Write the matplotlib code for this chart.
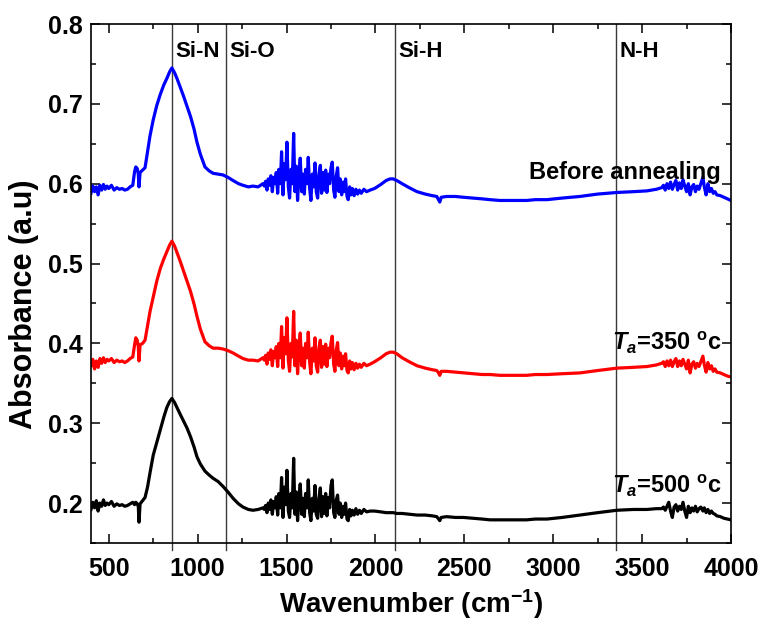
"""FTIR absorbance spectra of the SiN film before and after annealing."""
import matplotlib
matplotlib.use("Agg")
import matplotlib.pyplot as plt
from matplotlib.ticker import MultipleLocator

plt.rcParams["font.family"] = ["Liberation Sans", "DejaVu Sans"]
plt.rcParams["font.weight"] = "bold"
plt.rcParams["mathtext.fontset"] = "custom"
plt.rcParams["mathtext.rm"] = "Liberation Sans:bold"
plt.rcParams["mathtext.bf"] = "Liberation Sans:bold"
plt.rcParams["mathtext.it"] = "Liberation Sans:bold:italic"

# wavenumber grid (cm-1), shared by the three spectra
wavenumber = [
    400, 410, 420, 430, 440, 450, 460, 470, 480, 490,
    500, 515, 530, 545, 560, 575, 590, 605, 620, 635,
    645, 652, 660, 666, 670, 676, 690, 704, 718, 732,
    750, 770, 790, 810, 827, 842, 855, 870, 885, 900,
    920, 940, 960, 980, 996, 1015, 1041, 1065, 1087, 1115,
    1142, 1170, 1199, 1230, 1255, 1285, 1311, 1340, 1367, 1375,
    1382, 1390, 1397, 1405, 1412, 1420, 1427, 1435, 1442, 1450,
    1457, 1465, 1472, 1480, 1487, 1495, 1502, 1510, 1517, 1525,
    1532, 1540, 1547, 1555, 1562, 1570, 1577, 1585, 1592, 1600,
    1607, 1615, 1622, 1630, 1637, 1645, 1652, 1660, 1667, 1675,
    1682, 1690, 1697, 1705, 1712, 1720, 1727, 1735, 1742, 1750,
    1757, 1765, 1772, 1780, 1787, 1795, 1802, 1810, 1817, 1825,
    1832, 1840, 1847, 1855, 1862, 1870, 1880, 1890, 1900, 1910,
    1920, 1935, 1950, 1970, 1995, 2030, 2060, 2082, 2100, 2120,
    2150, 2190, 2234, 2280, 2320, 2345, 2355, 2362, 2370, 2400,
    2450, 2495, 2550, 2600, 2645, 2700, 2750, 2800, 2850, 2900,
    2965, 3050, 3150, 3250, 3358, 3450, 3527, 3580, 3610, 3620,
    3630, 3640, 3650, 3660, 3670, 3680, 3690, 3700, 3710, 3720,
    3730, 3740, 3750, 3760, 3770, 3780, 3790, 3800, 3810, 3820,
    3830, 3842, 3850, 3860, 3870, 3880, 3890, 3900, 3910, 3920,
    3940, 3960, 3980, 4000,
]

before_annealing = [
    0.588, 0.597, 0.590, 0.596, 0.586, 0.598, 0.592, 0.599, 0.593, 0.597,
    0.594, 0.598, 0.592, 0.595, 0.593, 0.594, 0.592, 0.593, 0.596, 0.598,
    0.615, 0.621, 0.619, 0.612, 0.596, 0.614, 0.617, 0.620, 0.640, 0.660,
    0.680, 0.698, 0.712, 0.724, 0.732, 0.740, 0.745, 0.739, 0.731, 0.722,
    0.710, 0.697, 0.684, 0.668, 0.652, 0.637, 0.621, 0.616, 0.613, 0.612,
    0.611, 0.608, 0.604, 0.600, 0.598, 0.596, 0.597, 0.596, 0.600, 0.597,
    0.603, 0.592, 0.606, 0.598, 0.610, 0.590, 0.608, 0.600, 0.614, 0.588,
    0.618, 0.600, 0.640, 0.586, 0.625, 0.605, 0.652, 0.596, 0.582, 0.618,
    0.600, 0.663, 0.590, 0.622, 0.579, 0.612, 0.632, 0.590, 0.612, 0.587,
    0.618, 0.600, 0.633, 0.594, 0.579, 0.612, 0.596, 0.626, 0.590, 0.582,
    0.612, 0.623, 0.588, 0.614, 0.592, 0.617, 0.589, 0.612, 0.600, 0.620,
    0.627, 0.592, 0.583, 0.610, 0.620, 0.590, 0.606, 0.586, 0.602, 0.590,
    0.606, 0.584, 0.580, 0.596, 0.586, 0.594, 0.585, 0.593, 0.587, 0.592,
    0.588, 0.593, 0.590, 0.592, 0.594, 0.599, 0.604, 0.606, 0.606, 0.604,
    0.600, 0.595, 0.590, 0.587, 0.585, 0.584, 0.580, 0.577, 0.583, 0.584,
    0.584, 0.583, 0.582, 0.581, 0.580, 0.579, 0.579, 0.579, 0.579, 0.580,
    0.580, 0.582, 0.584, 0.587, 0.589, 0.590, 0.591, 0.593, 0.595, 0.598,
    0.592, 0.600, 0.594, 0.602, 0.593, 0.599, 0.604, 0.592, 0.601, 0.594,
    0.605, 0.597, 0.590, 0.600, 0.586, 0.596, 0.599, 0.590, 0.597, 0.593,
    0.600, 0.608, 0.596, 0.586, 0.600, 0.590, 0.594, 0.588, 0.590, 0.586,
    0.585, 0.583, 0.581, 0.579,
]

annealed_350 = [
    0.372, 0.380, 0.368, 0.378, 0.370, 0.381, 0.375, 0.382, 0.376, 0.380,
    0.378, 0.381, 0.376, 0.379, 0.377, 0.378, 0.376, 0.378, 0.381, 0.383,
    0.398, 0.407, 0.404, 0.396, 0.378, 0.398, 0.400, 0.404, 0.422, 0.440,
    0.458, 0.478, 0.494, 0.506, 0.515, 0.523, 0.528, 0.522, 0.513, 0.504,
    0.491, 0.478, 0.465, 0.449, 0.434, 0.418, 0.402, 0.397, 0.394, 0.394,
    0.393, 0.391, 0.388, 0.384, 0.381, 0.379, 0.379, 0.378, 0.382, 0.379,
    0.385, 0.374, 0.388, 0.380, 0.392, 0.372, 0.390, 0.382, 0.396, 0.371,
    0.400, 0.382, 0.421, 0.369, 0.407, 0.387, 0.432, 0.379, 0.365, 0.400,
    0.383, 0.440, 0.372, 0.404, 0.362, 0.394, 0.413, 0.372, 0.394, 0.369,
    0.400, 0.382, 0.414, 0.376, 0.362, 0.394, 0.378, 0.407, 0.372, 0.364,
    0.394, 0.404, 0.370, 0.396, 0.374, 0.399, 0.371, 0.394, 0.382, 0.401,
    0.409, 0.374, 0.365, 0.392, 0.401, 0.372, 0.388, 0.368, 0.384, 0.372,
    0.387, 0.366, 0.363, 0.378, 0.368, 0.376, 0.367, 0.375, 0.369, 0.374,
    0.370, 0.375, 0.372, 0.374, 0.377, 0.382, 0.387, 0.389, 0.389, 0.387,
    0.382, 0.377, 0.372, 0.369, 0.367, 0.366, 0.363, 0.360, 0.365, 0.365,
    0.364, 0.363, 0.362, 0.361, 0.361, 0.360, 0.360, 0.360, 0.360, 0.361,
    0.361, 0.362, 0.363, 0.366, 0.369, 0.370, 0.371, 0.373, 0.375, 0.377,
    0.371, 0.378, 0.372, 0.379, 0.371, 0.377, 0.381, 0.371, 0.378, 0.372,
    0.380, 0.374, 0.368, 0.379, 0.363, 0.374, 0.377, 0.369, 0.375, 0.371,
    0.377, 0.384, 0.373, 0.364, 0.376, 0.368, 0.372, 0.365, 0.368, 0.364,
    0.363, 0.361, 0.359, 0.358,
]

annealed_500 = [
    0.192, 0.201, 0.194, 0.203, 0.190, 0.200, 0.196, 0.204, 0.197, 0.200,
    0.198, 0.202, 0.196, 0.199, 0.197, 0.198, 0.196, 0.197, 0.199, 0.201,
    0.198, 0.201, 0.199, 0.196, 0.176, 0.199, 0.203, 0.207, 0.220, 0.238,
    0.260, 0.276, 0.292, 0.308, 0.320, 0.327, 0.331, 0.326, 0.319, 0.312,
    0.303, 0.294, 0.283, 0.270, 0.258, 0.249, 0.240, 0.235, 0.231, 0.227,
    0.221, 0.214, 0.206, 0.199, 0.195, 0.192, 0.191, 0.192, 0.194, 0.192,
    0.197, 0.188, 0.200, 0.192, 0.204, 0.186, 0.202, 0.194, 0.208, 0.185,
    0.212, 0.194, 0.232, 0.182, 0.220, 0.198, 0.241, 0.190, 0.182, 0.212,
    0.194, 0.256, 0.186, 0.214, 0.178, 0.206, 0.224, 0.186, 0.206, 0.183,
    0.212, 0.194, 0.229, 0.188, 0.178, 0.206, 0.190, 0.222, 0.186, 0.181,
    0.206, 0.219, 0.183, 0.208, 0.187, 0.212, 0.184, 0.207, 0.194, 0.222,
    0.229, 0.188, 0.182, 0.204, 0.210, 0.186, 0.200, 0.182, 0.196, 0.186,
    0.200, 0.180, 0.178, 0.192, 0.184, 0.191, 0.185, 0.193, 0.186, 0.191,
    0.187, 0.192, 0.189, 0.190, 0.190, 0.189, 0.188, 0.188, 0.188, 0.187,
    0.187, 0.186, 0.185, 0.185, 0.184, 0.183, 0.180, 0.178, 0.182, 0.183,
    0.182, 0.182, 0.181, 0.180, 0.179, 0.179, 0.179, 0.179, 0.179, 0.180,
    0.180, 0.182, 0.185, 0.188, 0.191, 0.192, 0.192, 0.193, 0.193, 0.195,
    0.191, 0.196, 0.201, 0.190, 0.182, 0.195, 0.198, 0.190, 0.196, 0.192,
    0.201, 0.190, 0.182, 0.196, 0.188, 0.194, 0.190, 0.196, 0.189, 0.193,
    0.195, 0.190, 0.194, 0.188, 0.192, 0.187, 0.190, 0.187, 0.186, 0.184,
    0.183, 0.181, 0.180, 0.179,
]

# bond assignments (vertical markers)
bond_names = ["Si-N", "Si-O", "Si-H", "N-H"]
bond_positions = [855, 1160, 2110, 3355]

curve_labels = ["Before annealing", r"$T_a$=350 $^{\rm o}$c", r"$T_a$=500 $^{\rm o}$c"]
label_y = [0.606, 0.392, 0.212]

fig = plt.figure(figsize=(7.61, 6.23), dpi=100)
ax = fig.add_axes([91 / 761, 80 / 623, 640 / 761, 519 / 623])

ax.plot(wavenumber, before_annealing, color="#0000ff", lw=2.3)
ax.plot(wavenumber, annealed_350, color="#ff0000", lw=2.3)
ax.plot(wavenumber, annealed_500, color="black", lw=2.3)

for name, pos in zip(bond_names, bond_positions):
    ax.axvline(pos, ymin=-0.014, ymax=1, color="#3a3a3a", lw=1.0,
               clip_on=False, zorder=1)
    ax.text(pos + 20, 0.766, name, fontsize=16, fontweight="bold",
            ha="left", va="center")

for txt, y in zip(curve_labels, label_y):
    ax.text(3945, y, txt, fontsize=17, fontweight="bold", ha="right",
            va="baseline")

ax.set_xlim(400, 4000)
ax.set_ylim(0.15, 0.8)
ax.xaxis.set_major_locator(MultipleLocator(500))
ax.xaxis.set_minor_locator(MultipleLocator(250))
ax.yaxis.set_minor_locator(MultipleLocator(0.05))
ax.set_yticks([0.2, 0.3, 0.4, 0.5, 0.6, 0.7, 0.8])
ax.yaxis.set_major_formatter(matplotlib.ticker.FormatStrFormatter("%.1f"))
ax.tick_params(which="both", direction="in", top=True, right=True,
               width=1.1, labelsize=18)
ax.tick_params(which="major", length=6.5)
ax.tick_params(which="minor", length=3.5)
ax.tick_params(axis="x", which="major", pad=10)
ax.tick_params(axis="y", which="major", pad=6)
for lab in ax.get_xticklabels() + ax.get_yticklabels():
    lab.set_fontweight("bold")
for sp in ax.spines.values():
    sp.set_linewidth(1.2)

ax.set_xlabel(r"Wavenumber (cm$^{-1}$)", fontsize=20, fontweight="bold")
ax.set_ylabel("Absorbance (a.u)", fontsize=22, fontweight="bold")
ax.xaxis.set_label_coords(0.5, -0.085)
ax.yaxis.set_label_coords(-0.082, 0.46)

fig.savefig("out.png", dpi=100)
